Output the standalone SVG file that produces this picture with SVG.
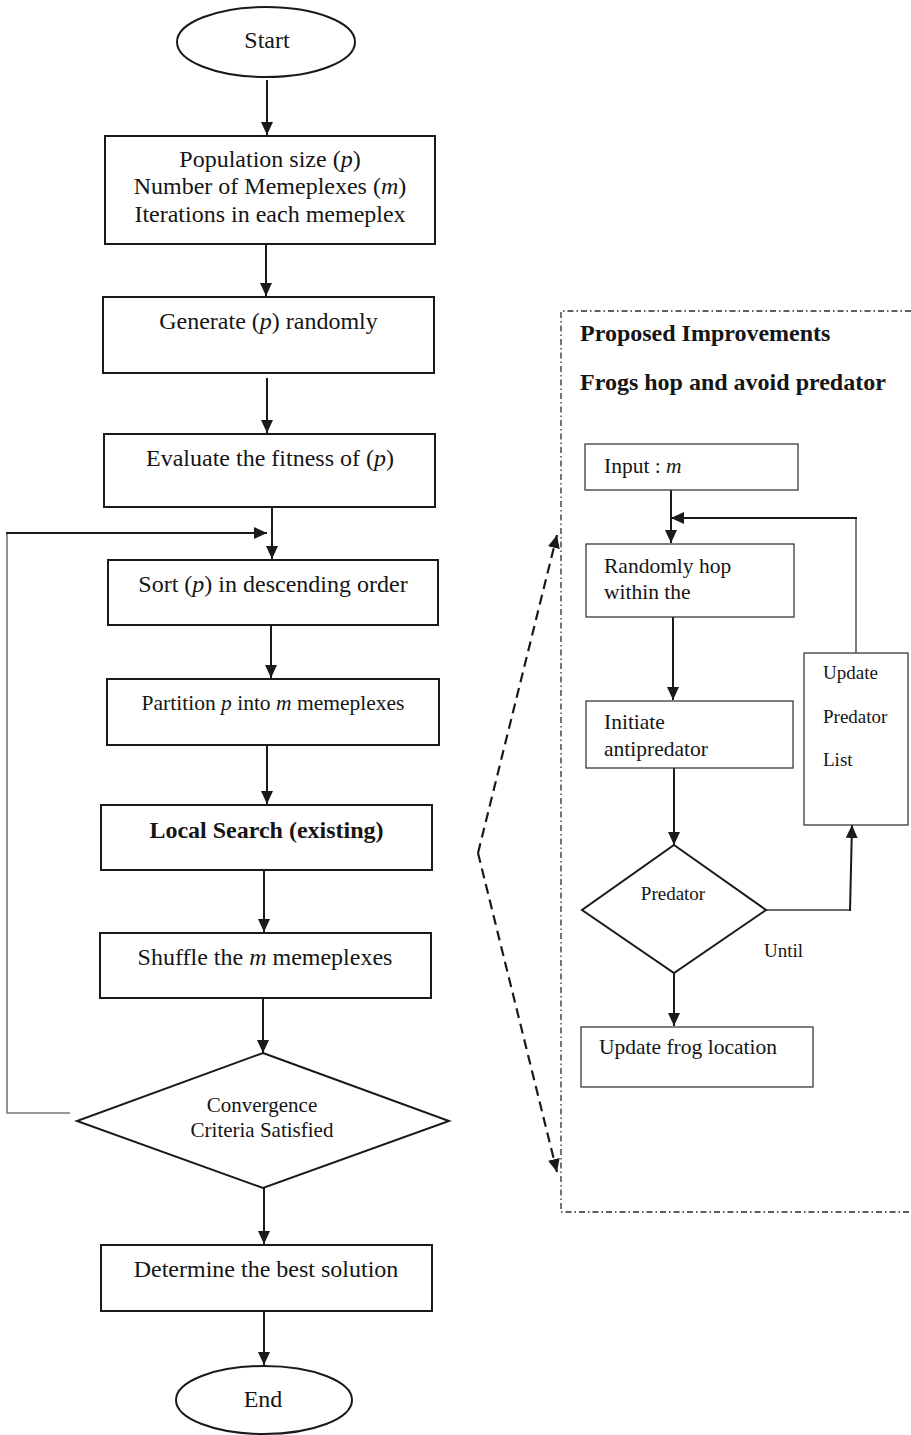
<svg xmlns="http://www.w3.org/2000/svg" width="911" height="1435" viewBox="0 0 911 1435">
<style>
.t{font-family:"Liberation Serif","Times New Roman",serif;fill:#151515}
.m{font-size:24px}
.s{font-size:21px}
.r{font-size:21.5px}
.x{font-size:19px}
.b{font-weight:bold}
.c{text-anchor:middle}
.i{font-style:italic}
.box{fill:#fff;stroke:#1a1a1a;stroke-width:2}
.rb{fill:#fff;stroke:#3a3a3a;stroke-width:1.3}
.ln{fill:none;stroke:#1a1a1a;stroke-width:2}
.gl{fill:none;stroke:#777;stroke-width:1.6}
.dsh{fill:none;stroke:#1a1a1a;stroke-width:2.2;stroke-dasharray:10,6}
</style>
<defs>
<marker id="ah" viewBox="0 0 13 12" refX="13" refY="6" markerWidth="13" markerHeight="12" markerUnits="userSpaceOnUse" orient="auto">
<path d="M0,0 L13,6 L0,12 Z" fill="#1a1a1a"/>
</marker>
</defs>

<g id="connectors">
<line class="ln" x1="267" y1="80" x2="267" y2="135" marker-end="url(#ah)"/>
<line class="ln" x1="266" y1="244" x2="266" y2="296" marker-end="url(#ah)"/>
<line class="ln" x1="267" y1="378" x2="267" y2="433" marker-end="url(#ah)"/>
<line class="ln" x1="272" y1="507" x2="272" y2="559" marker-end="url(#ah)"/>
<line class="ln" x1="271" y1="625" x2="271" y2="678" marker-end="url(#ah)"/>
<line class="ln" x1="267" y1="745" x2="267" y2="804" marker-end="url(#ah)"/>
<line class="ln" x1="264" y1="870" x2="264" y2="932" marker-end="url(#ah)"/>
<line class="ln" x1="263" y1="998" x2="263" y2="1053" marker-end="url(#ah)"/>
<line class="ln" x1="264" y1="1188" x2="264" y2="1244" marker-end="url(#ah)"/>
<line class="ln" x1="264" y1="1311" x2="264" y2="1365" marker-end="url(#ah)"/>
<polyline class="gl" points="70,1113 7,1113 7,533"/>
<line class="ln" x1="6" y1="533" x2="267" y2="533" marker-end="url(#ah)"/>
<!-- right panel -->
<path d="M911,311 H561 V1212 H911" fill="none" stroke="#2a2a2a" stroke-width="1.3" stroke-dasharray="6,3,1.5,3"/>
<line class="ln" x1="671" y1="490" x2="671" y2="543" marker-end="url(#ah)"/>
<line x1="856" y1="653" x2="856" y2="518" stroke="#3a3a3a" stroke-width="1.3"/>
<line class="ln" x1="857" y1="518" x2="671" y2="518" marker-end="url(#ah)"/>
<line class="ln" x1="673" y1="617" x2="673" y2="700" marker-end="url(#ah)"/>
<line class="ln" x1="674" y1="765" x2="674" y2="845" marker-end="url(#ah)"/>
<line x1="766" y1="910" x2="850" y2="910" stroke="#3a3a3a" stroke-width="1.3"/>
<line class="ln" x1="850" y1="911" x2="852" y2="825" marker-end="url(#ah)"/>
<line class="ln" x1="674" y1="973" x2="674" y2="1026" marker-end="url(#ah)"/>
<line class="dsh" x1="478" y1="853" x2="557" y2="535" marker-end="url(#ah)"/>
<line class="dsh" x1="478" y1="853" x2="557" y2="1172" marker-end="url(#ah)"/>
</g>

<g id="start">
<ellipse class="box" cx="266" cy="42" rx="89" ry="35"/>
<text class="t m c" x="267" y="48">Start</text>
</g>
<g id="params">
<rect class="box" x="105" y="136" width="330" height="108"/>
<text class="t m c" x="270" y="167">Population size (<tspan class="i">p</tspan>)</text>
<text class="t m c" x="270" y="194">Number of Memeplexes (<tspan class="i">m</tspan>)</text>
<text class="t m c" x="270" y="222">Iterations in each memeplex</text>
</g>
<g id="generate">
<rect class="box" x="103" y="297" width="331" height="76"/>
<text class="t m c" x="268.5" y="329">Generate (<tspan class="i">p</tspan>) randomly</text>
</g>
<g id="evaluate">
<rect class="box" x="104" y="434" width="331" height="73"/>
<text class="t m c" x="270" y="466">Evaluate the fitness of (<tspan class="i">p</tspan>)</text>
</g>
<g id="sort">
<rect class="box" x="108" y="560" width="330" height="65"/>
<text class="t m c" x="273" y="592">Sort (<tspan class="i">p</tspan>) in descending order</text>
</g>
<g id="partition">
<rect class="box" x="107" y="679" width="332" height="66"/>
<text class="t r c" x="273" y="710">Partition <tspan class="i">p</tspan> into <tspan class="i">m</tspan> memeplexes</text>
</g>
<g id="localsearch">
<rect class="box" x="101" y="805" width="331" height="65"/>
<text class="t m c b" x="266.5" y="838">Local Search (existing)</text>
</g>
<g id="shuffle">
<rect class="box" x="100" y="933" width="331" height="65"/>
<text class="t m c" x="265" y="965">Shuffle the <tspan class="i">m</tspan> memeplexes</text>
</g>
<g id="convergence">
<polygon class="box" points="263,1053 449,1121 263,1188 77,1121"/>
<text class="t s c" x="262" y="1112">Convergence</text>
<text class="t s c" x="262" y="1137">Criteria Satisfied</text>
</g>
<g id="best">
<rect class="box" x="101" y="1245" width="331" height="66"/>
<text class="t m c" x="266" y="1277">Determine the best solution</text>
</g>
<g id="end">
<ellipse class="box" cx="264" cy="1400" rx="88" ry="34"/>
<text class="t m c" x="263" y="1407">End</text>
</g>

<g id="panel-title">
<text class="t m b" x="580" y="341">Proposed Improvements</text>
<text class="t m b" x="580" y="390">Frogs hop and avoid predator</text>
</g>
<g id="input">
<rect class="rb" x="585" y="444" width="213" height="46"/>
<text class="t r" x="604" y="473">Input : <tspan class="i">m</tspan></text>
</g>
<g id="hop">
<rect class="rb" x="586" y="544" width="208" height="73"/>
<text class="t r" x="604" y="573">Randomly hop</text>
<text class="t r" x="604" y="599">within the</text>
</g>
<g id="antipredator">
<rect class="rb" x="586" y="701" width="207" height="67"/>
<text class="t r" x="604" y="729">Initiate</text>
<text class="t r" x="604" y="756">antipredator</text>
</g>
<g id="predator">
<polygon class="box" points="674,845 766,910 674,973 582,910"/>
<text class="t x c" x="673" y="900">Predator</text>
</g>
<g id="until-label">
<text class="t x" x="764" y="957">Until</text>
</g>
<g id="predator-list">
<rect class="rb" x="804" y="653" width="104" height="172"/>
<text class="t x" x="823" y="679">Update</text>
<text class="t x" x="823" y="723">Predator</text>
<text class="t x" x="823" y="766">List</text>
</g>
<g id="frog-location">
<rect class="rb" x="581" y="1027" width="232" height="60"/>
<text class="t r" x="599" y="1054">Update frog location</text>
</g>
</svg>
